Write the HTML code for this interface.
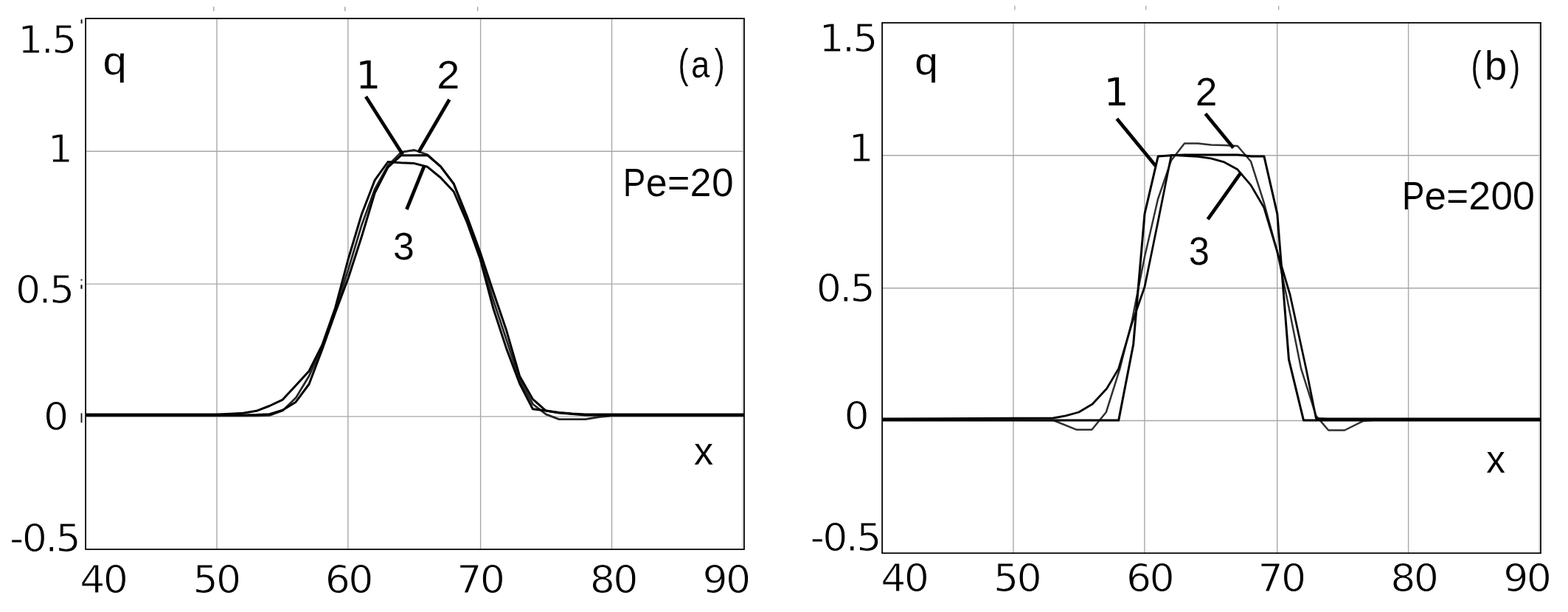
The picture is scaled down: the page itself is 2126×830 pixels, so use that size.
<!DOCTYPE html>
<html lang="en"><head><meta charset="utf-8"><title>Figure: q(x) profiles for Pe=20 and Pe=200</title>
<style>
html,body{margin:0;padding:0;background:#fff;}
body{width:2126px;height:830px;overflow:hidden;}
svg{display:block;}
text{white-space:pre;}
</style></head><body>
<svg width="2126" height="830" viewBox="0 0 2126 830">
<rect width="2126" height="830" fill="#fff"/>
<g stroke="#a8a8a8" stroke-width="1.4"><line x1="294.0" y1="25.1" x2="294.0" y2="744.9"/><line x1="471.9" y1="25.1" x2="471.9" y2="744.9"/><line x1="651.6" y1="25.1" x2="651.6" y2="744.9"/><line x1="829.5" y1="25.1" x2="829.5" y2="744.9"/><line x1="116.1" y1="205.2" x2="1009.0" y2="205.2"/><line x1="116.1" y1="385.1" x2="1009.0" y2="385.1"/><line x1="116.1" y1="564.9" x2="1009.0" y2="564.9"/></g>
<line x1="1007.0" y1="25.1" x2="1007.0" y2="744.9" stroke="#cdcdcd" stroke-width="1.4"/>
<rect x="116.1" y="25.1" width="892.9" height="719.9" fill="none" stroke="#000" stroke-width="1.75"/>
<g stroke="#a8a8a8" stroke-width="1.4"><line x1="1373.9" y1="30.9" x2="1373.9" y2="750.2"/><line x1="1551.9" y1="30.9" x2="1551.9" y2="750.2"/><line x1="1731.7" y1="30.9" x2="1731.7" y2="750.2"/><line x1="1909.6" y1="30.9" x2="1909.6" y2="750.2"/><line x1="1196.1" y1="210.8" x2="2089.0" y2="210.8"/><line x1="1196.1" y1="390.8" x2="2089.0" y2="390.8"/><line x1="1196.1" y1="570.5" x2="2089.0" y2="570.5"/></g>
<line x1="2087.1" y1="30.9" x2="2087.1" y2="750.2" stroke="#cdcdcd" stroke-width="1.4"/>
<rect x="1196.1" y="30.9" width="892.9" height="719.3" fill="none" stroke="#000" stroke-width="1.75"/>
<line x1="110.6" y1="26.4" x2="110.6" y2="31.8" stroke="#111" stroke-width="2.0"/>
<line x1="110.5" y1="378.6" x2="110.5" y2="380.6" stroke="#222" stroke-width="2.0"/>
<line x1="110.5" y1="386.3" x2="110.5" y2="391.7" stroke="#111" stroke-width="2.2"/>
<line x1="110.5" y1="560.4" x2="110.5" y2="573.2" stroke="#111" stroke-width="1.8"/>
<line x1="289.8" y1="9.3" x2="289.8" y2="15.0" stroke="#9a9a9a" stroke-width="1.3"/>
<line x1="467.8" y1="9.3" x2="467.8" y2="15.0" stroke="#9a9a9a" stroke-width="1.3"/>
<line x1="647.6" y1="9.3" x2="647.6" y2="15.0" stroke="#9a9a9a" stroke-width="1.3"/>
<line x1="1375.9" y1="7.7" x2="1375.9" y2="13.4" stroke="#a6a6a6" stroke-width="1.3"/>
<line x1="1553.7" y1="7.7" x2="1553.7" y2="13.4" stroke="#a6a6a6" stroke-width="1.3"/>
<line x1="1733.7" y1="7.7" x2="1733.7" y2="13.4" stroke="#a6a6a6" stroke-width="1.3"/>
<polyline points="116.1,563.9 294.0,563.9 311.9,563.9 329.7,563.9 347.6,563.9 365.4,563.4 383.2,556.9 401.1,539.6 419.0,510.0 436.8,471.0 454.6,420.6 472.5,364.5 490.4,305.2 508.2,256.5 526.0,224.5 543.9,206.4 561.8,203.5 579.6,209.8 597.5,225.9 615.3,249.4 633.2,297.5 651.0,346.5 668.9,407.3 686.7,460.7 704.5,515.0 722.4,548.0 740.2,561.9 758.1,568.6 776.0,568.6 793.8,568.6 811.7,565.5 829.5,563.9 1008.7,563.9" fill="none" stroke="#262626" stroke-width="2.8" stroke-linejoin="round"/>
<polyline points="116.1,561.9 294.0,561.9 311.9,561.2 329.7,560.2 347.6,557.3 365.4,550.5 383.2,542.1 401.1,522.7 419.0,503.3 436.8,468.0 454.6,417.5 472.5,350.2 490.4,290.5 508.2,244.4 526.0,219.5 543.9,220.8 561.8,221.6 579.6,226.3 597.5,241.0 615.3,260.0 633.2,301.5 651.0,351.0 668.9,418.5 686.7,472.9 704.5,520.0 722.4,554.7 740.2,557.0 758.1,559.5 776.0,561.0 793.8,561.9 811.7,561.9 829.5,561.9 1008.7,561.9" fill="none" stroke="#040404" stroke-width="3.0" stroke-linejoin="round"/>
<polyline points="116.1,562.9 294.0,562.9 311.9,562.9 329.7,562.9 347.6,562.5 365.4,561.7 383.2,556.3 401.1,545.2 419.0,521.0 436.8,474.0 454.6,424.0 472.5,376.2 490.4,320.7 508.2,261.5 526.0,226.8 543.9,210.7 561.8,210.7 579.6,210.5 597.5,225.9 615.3,249.4 633.2,293.5 651.0,342.0 668.9,396.0 686.7,448.3 704.5,510.0 722.4,541.4 740.2,557.1 758.1,560.0 776.0,561.5 793.8,562.9 811.7,562.9 829.5,562.9 1008.7,562.9" fill="none" stroke="#000" stroke-width="3.0" stroke-linejoin="round"/>
<polyline points="1196.4,569.0 1428.1,570.0 1459.3,582.7 1480.4,582.7 1499.8,559.0 1518.4,500.0 1534.6,436.0 1551.8,349.0 1570.0,270.0 1588.1,217.4 1606.0,194.6 1624.0,194.6 1642.0,196.5 1660.0,197.0 1678.0,198.0 1696.0,219.0 1713.8,275.0 1731.1,339.0 1744.1,400.0 1764.1,500.0 1784.4,563.9 1801.2,583.5 1823.2,583.5 1848.5,570.9 1870.0,569.0 2089.0,569.0" fill="none" stroke="#303030" stroke-width="2.5" stroke-linejoin="round"/>
<polyline points="1196.4,567.9 1428.0,567.0 1445.0,563.8 1462.7,559.0 1481.2,548.0 1500.6,527.0 1516.7,500.0 1534.6,439.0 1552.0,389.0 1570.0,301.0 1588.1,210.4 1624.1,212.3 1642.0,214.8 1660.0,219.9 1677.9,229.8 1696.0,251.1 1713.8,281.5 1731.1,339.0 1749.2,400.0 1770.9,500.0 1784.4,567.5 1800.0,567.9 2089.0,567.9" fill="none" stroke="#060606" stroke-width="2.8" stroke-linejoin="round"/>
<polyline points="1196.4,570.1 1516.7,570.1 1536.7,467.0 1552.0,290.0 1570.2,212.0 1588.1,210.8 1606.0,209.9 1678.5,209.9 1696.8,211.9 1713.9,211.9 1731.8,290.0 1747.5,487.7 1767.5,570.1 2089.0,570.1" fill="none" stroke="#000" stroke-width="3.0" stroke-linejoin="round"/>
<line x1="496.0" y1="131.0" x2="546.0" y2="209.5" stroke="#000" stroke-width="4.7" stroke-linecap="butt"/>
<line x1="609.3" y1="135.0" x2="567.4" y2="206.8" stroke="#000" stroke-width="4.7" stroke-linecap="butt"/>
<line x1="551.4" y1="284.0" x2="575.0" y2="225.6" stroke="#000" stroke-width="4.7" stroke-linecap="butt"/>
<line x1="1514.3" y1="161.0" x2="1566.9" y2="225.0" stroke="#000" stroke-width="4.7" stroke-linecap="butt"/>
<line x1="1634.4" y1="154.2" x2="1672.3" y2="200.6" stroke="#000" stroke-width="4.7" stroke-linecap="butt"/>
<line x1="1637.6" y1="297.4" x2="1682.5" y2="234.2" stroke="#000" stroke-width="4.7" stroke-linecap="butt"/>
<text transform="translate(24.33 71.98) scale(1.0400 1)" font-family="'DejaVu Sans', 'Liberation Sans', sans-serif" font-size="51.70" letter-spacing="-2.60" fill="#000" stroke="#fff" stroke-width="1.00">1.5</text>
<text transform="translate(64.64 220.22) scale(1.0400 1)" font-family="'DejaVu Sans', 'Liberation Sans', sans-serif" font-size="51.70" fill="#000" stroke="#fff" stroke-width="1.00">1</text>
<text transform="translate(21.04 411.44) scale(1.0400 1)" font-family="'DejaVu Sans', 'Liberation Sans', sans-serif" font-size="51.70" letter-spacing="-2.60" fill="#000" stroke="#fff" stroke-width="1.00">0.5</text>
<text transform="translate(58.88 583.39) scale(1.0400 1)" font-family="'DejaVu Sans', 'Liberation Sans', sans-serif" font-size="51.70" fill="#000" stroke="#fff" stroke-width="1.00">0</text>
<text transform="translate(12.97 748.44) scale(1.0400 1)" font-family="'DejaVu Sans', 'Liberation Sans', sans-serif" font-size="51.70" letter-spacing="-2.60" fill="#000" stroke="#fff" stroke-width="1.00">-0.5</text>
<text transform="translate(108.31 803.84) scale(1.0400 1)" font-family="'DejaVu Sans', 'Liberation Sans', sans-serif" font-size="51.70" letter-spacing="-2.60" fill="#000" stroke="#fff" stroke-width="1.00">40</text>
<text transform="translate(261.44 803.84) scale(1.0400 1)" font-family="'DejaVu Sans', 'Liberation Sans', sans-serif" font-size="51.70" letter-spacing="-2.60" fill="#000" stroke="#fff" stroke-width="1.00">50</text>
<text transform="translate(440.82 804.09) scale(1.0400 1)" font-family="'DejaVu Sans', 'Liberation Sans', sans-serif" font-size="51.70" letter-spacing="-2.60" fill="#000" stroke="#fff" stroke-width="1.00">60</text>
<text transform="translate(619.30 804.09) scale(1.0400 1)" font-family="'DejaVu Sans', 'Liberation Sans', sans-serif" font-size="51.70" letter-spacing="-2.60" fill="#000" stroke="#fff" stroke-width="1.00">70</text>
<text transform="translate(799.81 804.09) scale(1.0400 1)" font-family="'DejaVu Sans', 'Liberation Sans', sans-serif" font-size="51.70" letter-spacing="-2.60" fill="#000" stroke="#fff" stroke-width="1.00">80</text>
<text transform="translate(952.46 804.09) scale(1.0400 1)" font-family="'DejaVu Sans', 'Liberation Sans', sans-serif" font-size="51.70" letter-spacing="-2.60" fill="#000" stroke="#fff" stroke-width="1.00">90</text>
<text transform="translate(1110.43 69.98) scale(1.0400 1)" font-family="'DejaVu Sans', 'Liberation Sans', sans-serif" font-size="51.70" letter-spacing="-2.60" fill="#000" stroke="#fff" stroke-width="1.00">1.5</text>
<text transform="translate(1150.54 218.67) scale(1.0400 1)" font-family="'DejaVu Sans', 'Liberation Sans', sans-serif" font-size="51.70" fill="#000" stroke="#fff" stroke-width="1.00">1</text>
<text transform="translate(1106.69 409.49) scale(1.0400 1)" font-family="'DejaVu Sans', 'Liberation Sans', sans-serif" font-size="51.70" letter-spacing="-2.60" fill="#000" stroke="#fff" stroke-width="1.00">0.5</text>
<text transform="translate(1144.58 581.64) scale(1.0400 1)" font-family="'DejaVu Sans', 'Liberation Sans', sans-serif" font-size="51.70" fill="#000" stroke="#fff" stroke-width="1.00">0</text>
<text transform="translate(1098.62 746.79) scale(1.0400 1)" font-family="'DejaVu Sans', 'Liberation Sans', sans-serif" font-size="51.70" letter-spacing="-2.60" fill="#000" stroke="#fff" stroke-width="1.00">-0.5</text>
<text transform="translate(1194.16 802.09) scale(1.0400 1)" font-family="'DejaVu Sans', 'Liberation Sans', sans-serif" font-size="51.70" letter-spacing="-2.60" fill="#000" stroke="#fff" stroke-width="1.00">40</text>
<text transform="translate(1346.99 802.09) scale(1.0400 1)" font-family="'DejaVu Sans', 'Liberation Sans', sans-serif" font-size="51.70" letter-spacing="-2.60" fill="#000" stroke="#fff" stroke-width="1.00">50</text>
<text transform="translate(1526.97 802.09) scale(1.0400 1)" font-family="'DejaVu Sans', 'Liberation Sans', sans-serif" font-size="51.70" letter-spacing="-2.60" fill="#000" stroke="#fff" stroke-width="1.00">60</text>
<text transform="translate(1705.50 802.09) scale(1.0400 1)" font-family="'DejaVu Sans', 'Liberation Sans', sans-serif" font-size="51.70" letter-spacing="-2.60" fill="#000" stroke="#fff" stroke-width="1.00">70</text>
<text transform="translate(1885.26 802.09) scale(1.0400 1)" font-family="'DejaVu Sans', 'Liberation Sans', sans-serif" font-size="51.70" letter-spacing="-2.60" fill="#000" stroke="#fff" stroke-width="1.00">80</text>
<text transform="translate(2038.31 802.29) scale(1.0400 1)" font-family="'DejaVu Sans', 'Liberation Sans', sans-serif" font-size="51.70" letter-spacing="-2.60" fill="#000" stroke="#fff" stroke-width="1.00">90</text>
<text transform="translate(139.49 100.86) scale(1.1278 1)" font-family="'Liberation Sans', sans-serif" font-size="51.55" fill="#000" stroke="#fff" stroke-width="0.15">q</text>
<text transform="translate(482.31 120.08) scale(1.0437 1)" font-family="'DejaVu Sans', 'Liberation Sans', sans-serif" font-size="51.45" fill="#000" stroke="#fff" stroke-width="0.15">1</text>
<text transform="translate(592.23 120.08) scale(1.0251 1)" font-family="'Liberation Sans', sans-serif" font-size="54.37" fill="#000" stroke="#fff" stroke-width="0.15">2</text>
<text transform="translate(532.95 351.56) scale(0.9960 1)" font-family="'Liberation Sans', sans-serif" font-size="51.92" fill="#000" stroke="#fff" stroke-width="0.15">3</text>
<text transform="translate(941.00 629.78) scale(0.9723 1)" font-family="'Liberation Sans', sans-serif" font-size="53.70" fill="#000" stroke="#fff" stroke-width="0.15">x</text>
<text transform="translate(1240.15 101.14) scale(1.0906 1)" font-family="'Liberation Sans', sans-serif" font-size="52.08" fill="#000" stroke="#fff" stroke-width="0.15">q</text>
<text transform="translate(1496.59 142.68) scale(1.0566 1)" font-family="'DejaVu Sans', 'Liberation Sans', sans-serif" font-size="51.04" fill="#000" stroke="#fff" stroke-width="0.15">1</text>
<text transform="translate(1620.85 142.68) scale(0.9937 1)" font-family="'Liberation Sans', sans-serif" font-size="53.66" fill="#000" stroke="#fff" stroke-width="0.15">2</text>
<text transform="translate(1611.79 359.45) scale(0.9575 1)" font-family="'Liberation Sans', sans-serif" font-size="52.90" fill="#000" stroke="#fff" stroke-width="0.15">3</text>
<text transform="translate(2015.21 641.08) scale(0.9704 1)" font-family="'Liberation Sans', sans-serif" font-size="52.94" fill="#000" stroke="#fff" stroke-width="0.15">x</text>
<text y="265.60" font-family="'Liberation Sans', sans-serif" font-size="53.50" fill="#000" stroke="#fff" stroke-width="0.15"><tspan x="844.84" textLength="30.55" lengthAdjust="spacingAndGlyphs">P</tspan><tspan x="875.82" textLength="28.87" lengthAdjust="spacingAndGlyphs">e</tspan><tspan x="904.99" textLength="30.46" lengthAdjust="spacingAndGlyphs">=</tspan><tspan x="935.60" textLength="28.97" lengthAdjust="spacingAndGlyphs">2</tspan><tspan x="965.07" textLength="29.66" lengthAdjust="spacingAndGlyphs">0</tspan></text>
<text y="284.40" font-family="'Liberation Sans', sans-serif" font-size="53.50" fill="#000" stroke="#fff" stroke-width="0.15"><tspan x="1901.05" textLength="30.42" lengthAdjust="spacingAndGlyphs">P</tspan><tspan x="1931.58" textLength="29.47" lengthAdjust="spacingAndGlyphs">e</tspan><tspan x="1961.14" textLength="29.86" lengthAdjust="spacingAndGlyphs">=</tspan><tspan x="1991.31" textLength="29.95" lengthAdjust="spacingAndGlyphs">2</tspan><tspan x="2021.38" textLength="29.43" lengthAdjust="spacingAndGlyphs">0</tspan><tspan x="2050.82" textLength="30.36" lengthAdjust="spacingAndGlyphs">0</tspan></text>
<text y="104.60" font-family="'Liberation Sans', sans-serif" font-size="52.00" fill="#000" stroke="#fff" stroke-width="0.15"><tspan x="919.46" textLength="14.08" lengthAdjust="spacingAndGlyphs" font-size="55.40">(</tspan><tspan x="937.08" textLength="25.27" lengthAdjust="spacingAndGlyphs">a</tspan><tspan x="968.69" textLength="13.95" lengthAdjust="spacingAndGlyphs" font-size="55.40">)</tspan></text>
<text y="107.60" font-family="'Liberation Sans', sans-serif" font-size="55.00" fill="#000" stroke="#fff" stroke-width="0.15"><tspan x="1994.46" textLength="14.08" lengthAdjust="spacingAndGlyphs" font-size="55.40">(</tspan><tspan x="2012.83" textLength="30.53" lengthAdjust="spacingAndGlyphs">b</tspan><tspan x="2046.99" textLength="14.20" lengthAdjust="spacingAndGlyphs" font-size="55.40">)</tspan></text>
</svg>
</body></html>
